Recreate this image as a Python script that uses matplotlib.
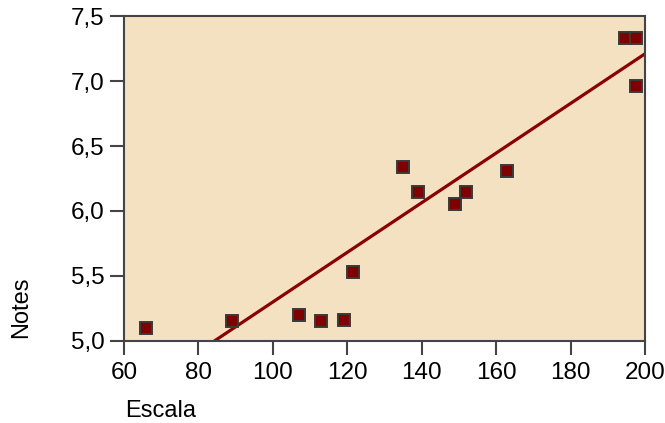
import numpy as np
import matplotlib
matplotlib.use('Agg')
from matplotlib import pyplot as plt
from matplotlib.ticker import FuncFormatter

# Data
escala = [66, 89, 107, 113, 119, 121.5, 135, 139, 149, 152, 163, 194.5, 197.5, 197.5]
notes = [5.10, 5.15, 5.20, 5.15, 5.16, 5.53, 6.34, 6.15, 6.05, 6.15, 6.31, 7.33, 7.33, 6.96]

# fit line as drawn in the chart (ends)
fit_x = [84.3, 200]
fit_y = [5.0, 7.21]

x_ticks = [60, 80, 100, 120, 140, 160, 180, 200]
y_ticks = [5.0, 5.5, 6.0, 6.5, 7.0, 7.5]

plt.rcParams['font.family'] = ['Liberation Sans', 'DejaVu Sans']

fig = plt.figure(figsize=(6.65, 4.23), dpi=100)
ax = fig.add_axes([0.1865, 0.194, 0.7835, 0.768])
ax.set_facecolor('#f4e1c2')

ax.plot(fit_x, fit_y, color='#8b0000', lw=2.3, zorder=2)
ax.plot(escala, notes, 's', ms=8.5, mfc='#800000', mec='#3a3a3a', mew=1.4, zorder=3)

ax.set_xlim(60, 200)
ax.set_ylim(5.0, 7.5)
ax.set_xticks(x_ticks)
ax.set_yticks(y_ticks)
ax.yaxis.set_major_formatter(FuncFormatter(lambda v, p: ('%.1f' % v).replace('.', ',')))
ax.tick_params(direction='out', length=10, width=1.5, color='#444444', labelsize=17.5)
ax.tick_params(axis='x', pad=5)
ax.tick_params(axis='y', pad=4)
for s in ax.spines.values():
    s.set_color('#444444')
    s.set_linewidth(1.5)

fig.text(0.188, 0.028, 'Escala', fontsize=17, ha='left', va='center')
fig.text(0.032, 0.274, 'Notes', fontsize=17, ha='center', va='center', rotation=90)

plt.savefig('out.png', dpi=100)
